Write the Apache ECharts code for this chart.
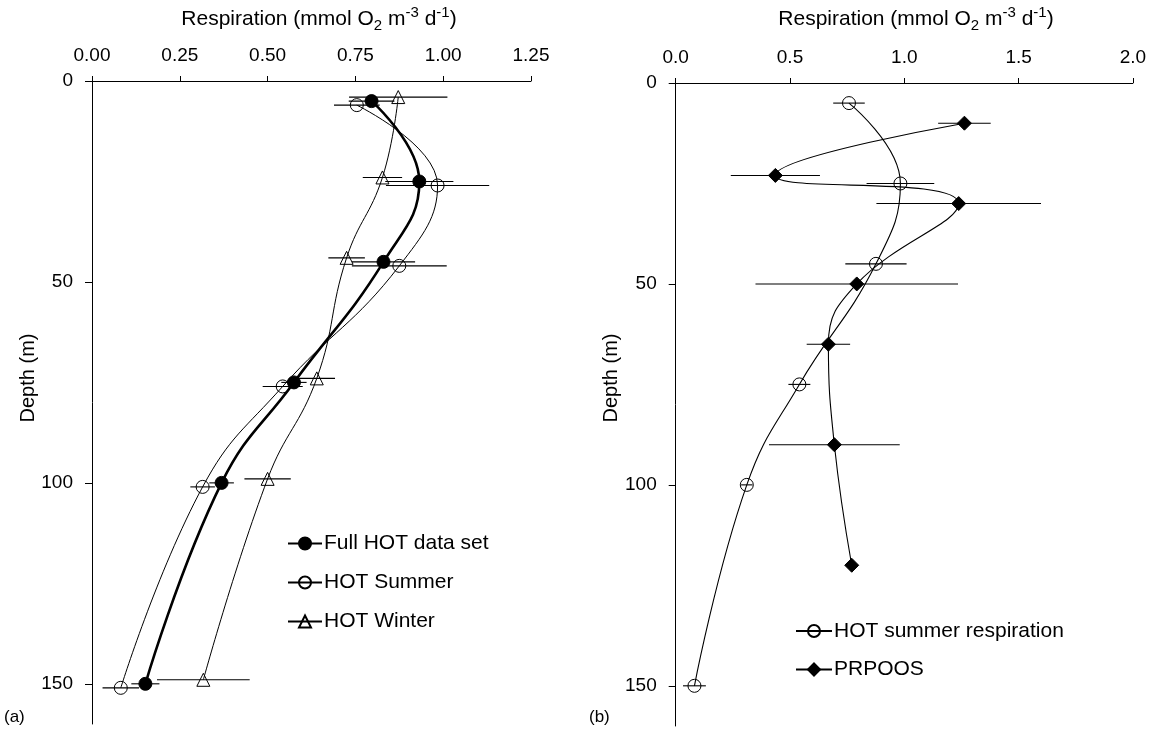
<!DOCTYPE html>
<html>
<head>
<meta charset="utf-8">
<script src="https://cdn.jsdelivr.net/npm/echarts@6/dist/echarts.min.js"></script>
<style>
html,body{margin:0;padding:0;background:#fff;}
#chart{width:1159px;height:730px;}
</style>
</head>
<body>
<div id="chart"></div>
<script>
// ---------- Panel (a) data ----------
const fullDepth = [5, 25, 45, 75, 100, 150];
const fullResp  = [0.796, 0.932, 0.830, 0.575, 0.369, 0.152];
const fullErr   = [0.065, 0.097, 0.090, 0.036, 0.035, 0.040];

const summerDepthA = [6, 26, 46, 76, 101, 151];
const summerRespA  = [0.754, 0.984, 0.875, 0.543, 0.315, 0.082];
const summerErrA   = [0.065, 0.147, 0.135, 0.057, 0.035, 0.052];

const winterDepth = [4, 24, 44, 74, 99, 149];
const winterResp  = [0.872, 0.827, 0.725, 0.640, 0.500, 0.317];
const winterErr   = [0.140, 0.056, 0.052, 0.052, 0.066, 0.132];

// ---------- Panel (b) data ----------
const summerDepthB = [5, 25, 45, 75, 100, 150];
const summerRespB  = [0.758, 0.983, 0.876, 0.541, 0.311, 0.082];
const summerErrB   = [0.069, 0.148, 0.134, 0.048, 0.025, 0.050];

const prpoosDepth = [10, 23, 30, 50, 65, 90, 120];
const prpoosResp  = [1.263, 0.436, 1.238, 0.792, 0.668, 0.694, 0.770];
const prpoosErr   = [0.115, 0.195, 0.360, 0.443, 0.095, 0.286, 0];

// ---------- Axis ticks ----------
const depthTicks = [0, 50, 100, 150];
const respTicksA = [0, 0.25, 0.5, 0.75, 1.0, 1.25];
const respTicksB = [0, 0.5, 1.0, 1.5, 2.0];

const legendA = ['Full HOT data set', 'HOT Summer', 'HOT Winter'];
const legendB = ['HOT summer respiration', 'PRPOOS'];

const FONT = 'Liberation Sans, Arial, Helvetica, sans-serif';
const FS = 19;
const FS_BIG = 21;

function pairs(vals, depths) { return vals.map((v, i) => [v, depths[i]]); }
function errData(vals, errs, depths) {
  return vals.map((v, i) => [v - errs[i], v + errs[i], depths[i]]);
}
function errSeries(name, vals, errs, depths, idx) {
  return {
    type: 'custom', name: name + ' err', xAxisIndex: idx, yAxisIndex: idx,
    silent: true, z: 1,
    data: errData(vals, errs, depths).filter(d => d[1] > d[0]),
    encode: { x: [0, 1], y: 2 },
    renderItem: function (params, api) {
      const p1 = api.coord([api.value(0), api.value(2)]);
      const p2 = api.coord([api.value(1), api.value(2)]);
      return { type: 'line', shape: { x1: p1[0], y1: p1[1], x2: p2[0], y2: p2[1] },
               style: { stroke: '#000', lineWidth: 1.1 } };
    }
  };
}
function lineSeries(name, vals, depths, idx, symbol, filled, width, size) {
  return {
    type: 'line', name: name, xAxisIndex: idx, yAxisIndex: idx,
    data: pairs(vals, depths), smooth: 0.45, z: 3,
    symbol: symbol, symbolSize: size, showAllSymbol: true,
    lineStyle: { color: '#000', width: width },
    itemStyle: filled ? { color: '#000', borderColor: '#000', borderWidth: 1 }
                      : { color: 'rgba(255,255,255,0)', borderColor: '#000', borderWidth: 1 },
    emphasis: { disabled: true }
  };
}

function xAxisDef(idx, max, interval) {
  return {
    gridIndex: idx, type: 'value', position: 'top', min: 0, max: max, interval: interval,
    axisLine: { show: true, onZero: false, lineStyle: { color: '#000', width: 1 } },
    axisTick: { show: true, inside: false, length: 5, lineStyle: { color: '#000' } },
    axisLabel: { color: '#000', fontSize: FS, fontFamily: FONT, margin: 16,
                 formatter: v => idx === 0 ? v.toFixed(2) : v.toFixed(1) },
    splitLine: { show: false }
  };
}
function yAxisDef(idx) {
  return {
    gridIndex: idx, type: 'value', inverse: true, min: 0, max: 160,
    axisLine: { show: true, onZero: false, lineStyle: { color: '#000', width: 1 } },
    axisTick: { show: true, inside: false, length: 7, customValues: depthTicks, lineStyle: { color: '#000' } },
    axisLabel: { color: '#000', fontSize: FS, fontFamily: FONT, margin: 19, customValues: depthTicks },
    splitLine: { show: false }
  };
}

const titleRich = {
  n:   { fontSize: FS_BIG, fontFamily: FONT, lineHeight: 28, fill: '#000' },
  sub: { fontSize: 15, fontFamily: FONT, lineHeight: 15, verticalAlign: 'bottom', fill: '#000' },
  sup: { fontSize: 15, fontFamily: FONT, lineHeight: 21, verticalAlign: 'top', fill: '#000' }
};
const titleText = '{n|Respiration (mmol O}{sub|2}{n| m}{sup|-3}{n| d}{sup|-1}{n|)}';

const chart = echarts.init(document.getElementById('chart'), null, { renderer: 'canvas' });
chart.setOption({
  animation: false,
  backgroundColor: '#fff',
  textStyle: { fontFamily: FONT, color: '#000' },
  grid: [
    { left: 92, top: 81, width: 439, height: 643, containLabel: false },
    { left: 675.7, top: 83, width: 457.2, height: 643, containLabel: false }
  ],
  xAxis: [xAxisDef(0, 1.25, 0.25), xAxisDef(1, 2.0, 0.5)],
  yAxis: [yAxisDef(0), yAxisDef(1)],
  legend: [
    {
      data: legendA, orient: 'vertical', left: 282, top: 527.5,
      itemWidth: 34, itemHeight: 15, itemGap: 17,
      textStyle: { fontSize: FS_BIG, fontFamily: FONT, color: '#000', lineHeight: 22, padding: [0, 0, 0, -3] },
      selectedMode: false
    },
    {
      data: legendB, orient: 'vertical', left: 790, top: 615,
      itemWidth: 36, itemHeight: 15, itemGap: 16.5,
      textStyle: { fontSize: FS_BIG, fontFamily: FONT, color: '#000', lineHeight: 22, padding: [0, 0, 0, -3] },
      selectedMode: false
    }
  ],
  graphic: [
    { type: 'text', x: 319, y: 5, style: { text: titleText, rich: titleRich, align: 'center', verticalAlign: 'top', fill: '#000' } },
    { type: 'text', x: 916, y: 5, style: { text: titleText, rich: titleRich, align: 'center', verticalAlign: 'top', fill: '#000' } },
    { type: 'text', x: 28, y: 378, rotation: Math.PI / 2,
      style: { text: 'Depth (m)', font: '20px ' + FONT, fill: '#000', align: 'center', verticalAlign: 'middle' } },
    { type: 'text', x: 611, y: 378, rotation: Math.PI / 2,
      style: { text: 'Depth (m)', font: '20px ' + FONT, fill: '#000', align: 'center', verticalAlign: 'middle' } },
    { type: 'text', x: 4, y: 717, style: { text: '(a)', font: '17px ' + FONT, fill: '#000', verticalAlign: 'middle' } },
    { type: 'text', x: 589, y: 717, style: { text: '(b)', font: '17px ' + FONT, fill: '#000', verticalAlign: 'middle' } }
  ],
  series: [
    errSeries('Full HOT data set', fullResp, fullErr, fullDepth, 0),
    errSeries('HOT Summer', summerRespA, summerErrA, summerDepthA, 0),
    errSeries('HOT Winter', winterResp, winterErr, winterDepth, 0),
    lineSeries('Full HOT data set', fullResp, fullDepth, 0, 'circle', true, 2.6, 13),
    lineSeries('HOT Summer', summerRespA, summerDepthA, 0, 'circle', false, 1, 13),
    lineSeries('HOT Winter', winterResp, winterDepth, 0, 'triangle', false, 1, 13),
    errSeries('HOT summer respiration', summerRespB, summerErrB, summerDepthB, 1),
    errSeries('PRPOOS', prpoosResp, prpoosErr, prpoosDepth, 1),
    lineSeries('HOT summer respiration', summerRespB, summerDepthB, 1, 'circle', false, 1.1, 13),
    lineSeries('PRPOOS', prpoosResp, prpoosDepth, 1, 'diamond', true, 1.1, 14)
  ]
});
</script>
</body>
</html>
